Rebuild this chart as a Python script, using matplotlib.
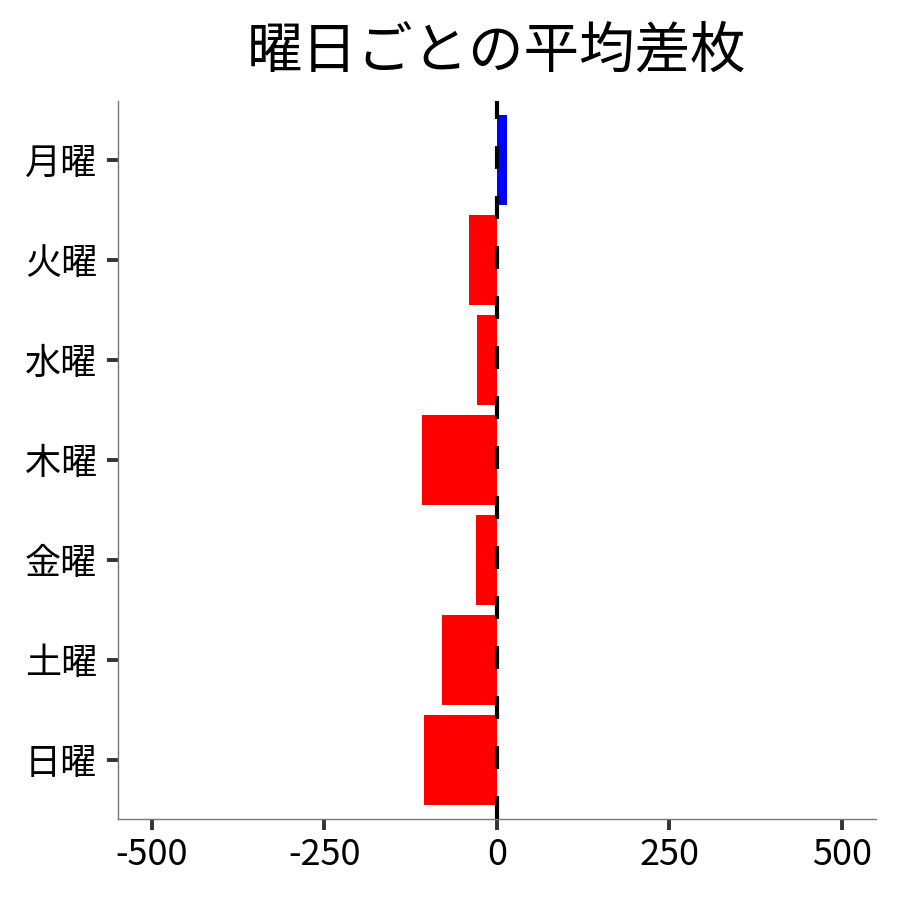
import matplotlib
matplotlib.use('Agg')
import matplotlib.pyplot as plt

plt.rcParams['font.family'] = ['Noto Sans CJK JP', 'DejaVu Sans']
plt.rcParams['axes.unicode_minus'] = False

# 曜日ごとの平均差枚
days = ['月曜', '火曜', '水曜', '木曜', '金曜', '土曜', '日曜']
diff = [15, -41, -29, -109, -30, -79, -106]
xticks = [-500, -250, 0, 250, 500]

colors = ['#0000ff' if v > 0 else '#ff0000' for v in diff]

fig = plt.figure(figsize=(9, 9), dpi=100)
ax = fig.add_axes([0.131, 0.09, 0.842, 0.798])

ax.barh(range(len(days)), diff, height=0.9, color=colors, zorder=2)
ax.axvline(0, color='black', linewidth=3, linestyle=(0, (5.5, 6.5)), zorder=3)

ax.set_yticks(range(len(days)))
ax.set_yticklabels(days)
ax.set_ylim(6.59, -0.59)
ax.set_xticks(xticks)
ax.set_xticklabels([str(t) for t in xticks])
ax.set_xlim(-549, 549)

ax.tick_params(axis='both', labelsize=26, length=8, width=2.8, color='#333333')
ax.tick_params(axis='y', pad=7)
ax.tick_params(axis='x', pad=5)

for s in ['top', 'right']:
    ax.spines[s].set_visible(False)
for s in ['left', 'bottom']:
    ax.spines[s].set_color('#777777')
    ax.spines[s].set_linewidth(1)

ax.set_title('曜日ごとの平均差枚', fontsize=40, pad=24)

fig.savefig('out.png', dpi=100)
